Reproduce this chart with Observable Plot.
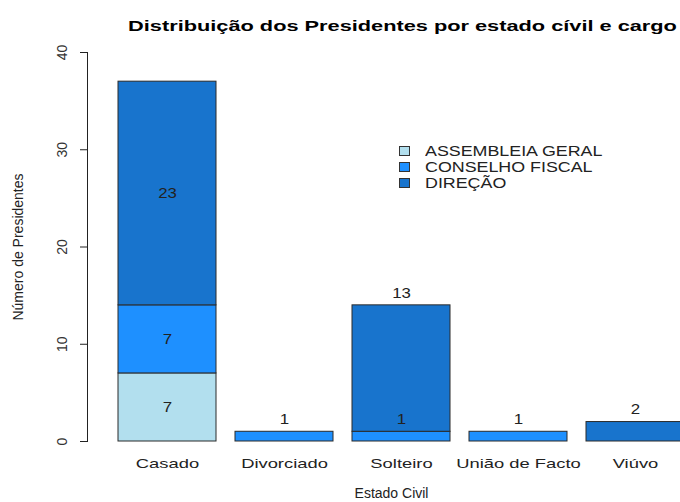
<!DOCTYPE html>
<html><head><meta charset="utf-8">
<script src="https://cdn.jsdelivr.net/npm/d3@7"></script>
<script src="https://cdn.jsdelivr.net/npm/@observablehq/plot@0.6"></script>
<style>
body{margin:0;background:#fff;font-family:"Liberation Sans",Arial,sans-serif;}
#wrap{position:relative;width:680px;height:502px;overflow:hidden;}
#legend{position:absolute;left:399px;top:143px;font-size:14.5px;color:#222;line-height:16px;}
#legend div{display:flex;align-items:center;height:16px;}
#legend span.sw{display:inline-block;width:9px;height:8px;border:1px solid #333;margin-right:15px;}
#legend span.lb{display:inline-block;transform:scaleX(1.23);transform-origin:left center;}
</style></head>
<body><div id="wrap"><div id="legend"></div></div>
<script>
const categories = ["Casado","Divorciado","Solteiro","União de Facto","Viúvo"];
const cargos = ["ASSEMBLEIA GERAL","CONSELHO FISCAL","DIREÇÃO"];
const assembleiaGeral = [7,0,0,0,0];
const conselhoFiscal = [7,1,1,1,0];
const direcao = [23,0,13,0,2];
const colors = ["#b2dfee","#1e90ff","#1874cd"];
const yTicks = [0,10,20,30,40];
const title = "Distribuição dos Presidentes por estado cívil e cargo";
const xTitle = "Estado Civil";
const yTitle = "Número de Presidentes";

const series = [assembleiaGeral, conselhoFiscal, direcao];
const rows = [];
categories.forEach((c, i) => {
  let base = 0;
  const total = series.reduce((s, a) => s + a[i], 0);
  series.forEach((a, k) => {
    const v = a[i];
    if (v > 0) {
      rows.push({cat: c, cargo: cargos[k], y1: base, y2: base + v, v,
        ly: total > 20 ? base + v / 2 : base + v + 1.25});
    }
    base += v;
  });
});

const font = '"Liberation Sans",Arial,sans-serif';
const narrow = '"Liberation Sans Narrow","Liberation Sans",sans-serif';
const plot = Plot.plot({
  width: 680, height: 502,
  marginTop: 52, marginBottom: 61, marginLeft: 87, marginRight: 0,
  style: {fontFamily: font, fontSize: "13px", color: "#222", background: "#fff"},
  x: {domain: categories, range: [117, 686], paddingInner: 0.162, paddingOuter: 0, axis: null},
  y: {domain: [0, 40], axis: null},
  color: {domain: cargos, range: colors},
  marks: [
    Plot.rectY(rows, {x: "cat", y1: "y1", y2: "y2", fill: "cargo", stroke: "#2a2a2a", strokeWidth: 1}),
    Plot.text(rows, {x: "cat", y: "ly", text: d => String(d.v), fontSize: 14, fill: "#222", className: "s-bar"}),
    Plot.axisY({ticks: yTicks, tickSize: 7, tickFormat: () => "", label: null, stroke: "#222"}),
    Plot.frame({anchor: "left", stroke: "#222"}),
    Plot.text(yTicks, {y: d => d, frameAnchor: "left", textAnchor: "middle", dx: -25, rotate: -90, text: d => String(d),
      fontSize: 14, fill: "#333", fontFamily: narrow}),
    Plot.axisX({tickSize: 0, tickPadding: 17, label: null, fontSize: 13.5, fill: "#222"}),
    Plot.text([xTitle], {frameAnchor: "bottom", dx: 7.5, dy: 56, fontSize: 14, fill: "#222", className: "s-xl"}),
    Plot.text([yTitle], {frameAnchor: "left", textAnchor: "middle", dx: -69, rotate: -90, fontSize: 14, fill: "#222", fontFamily: narrow}),
    Plot.text([title], {frameAnchor: "top", dx: 18.5, dy: -32, fontSize: 15, fontWeight: "bold", fill: "#000", className: "s-title"})
  ]
});
const wrap = document.getElementById("wrap");
wrap.insertBefore(plot, wrap.firstChild);

// horizontal stretch of text to match the reference rendering
function stretch(sel, f) {
  plot.querySelectorAll(sel).forEach(t => {
    const len = t.getComputedTextLength();
    t.setAttribute("textLength", (len * f).toFixed(1));
    t.setAttribute("lengthAdjust", "spacingAndGlyphs");
  });
}
stretch(".s-title text", 1.45);
stretch('[aria-label="x-axis tick label"] text', 1.36);
stretch(".s-bar text", 1.2);

const lg = document.getElementById("legend");
cargos.forEach((c, k) => {
  const d = document.createElement("div");
  d.innerHTML = `<span class="sw" style="background:${colors[k]}"></span><span class="lb">${c}</span>`;
  lg.appendChild(d);
});
</script></body></html>
